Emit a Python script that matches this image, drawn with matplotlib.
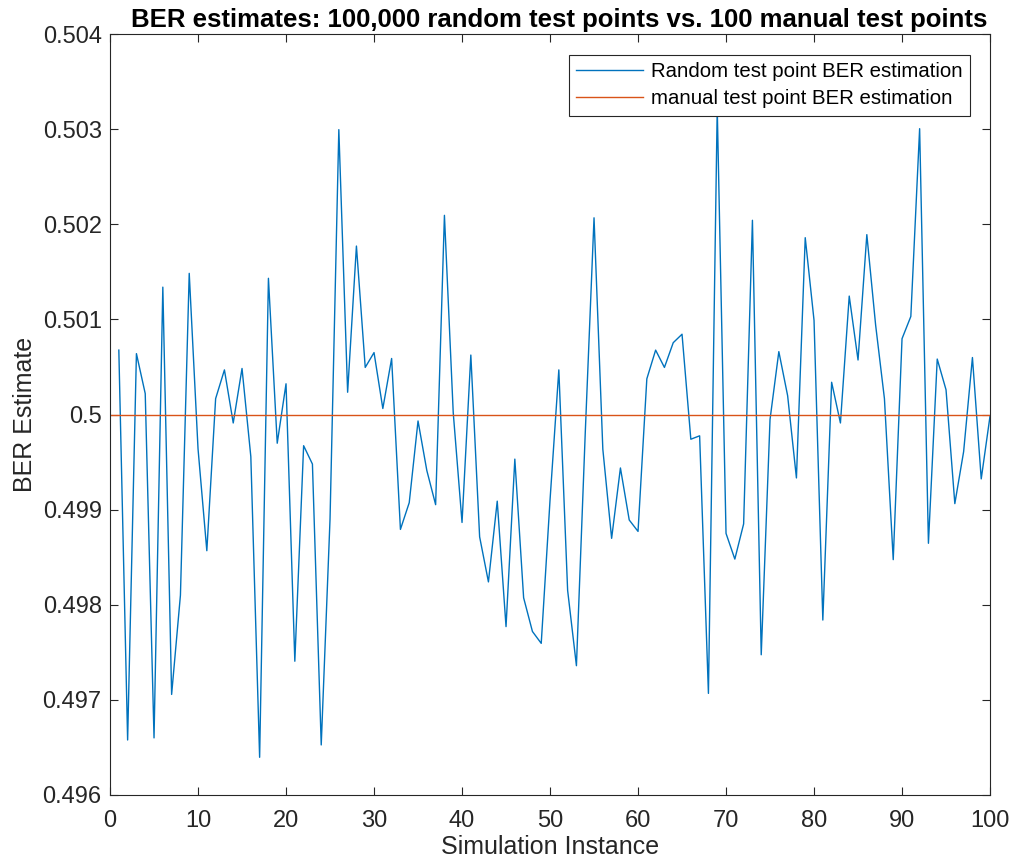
import numpy as np
import matplotlib
matplotlib.use("Agg")
import matplotlib.pyplot as plt

plt.rcParams["font.family"] = ["Liberation Sans", "DejaVu Sans"]

# BER estimate per simulation instance
instances = np.arange(1, 101)
ber_random = [
    0.500677, 0.496578, 0.500640, 0.500220, 0.496600, 0.501339, 0.497057, 0.498100, 0.501484, 0.499640,
    0.498568, 0.500167, 0.500469, 0.499911, 0.500484, 0.499557, 0.496396, 0.501432, 0.499698, 0.500323,
    0.497406, 0.499672, 0.499479, 0.496526, 0.498900, 0.502995, 0.500234, 0.501771, 0.500495, 0.500651,
    0.500063, 0.500589, 0.498792, 0.499073, 0.499932, 0.499411, 0.499052, 0.502094, 0.500020, 0.498865,
    0.500625, 0.498714, 0.498240, 0.499089, 0.497770, 0.499531, 0.498073, 0.497719, 0.497594, 0.499100,
    0.500469, 0.498151, 0.497359, 0.499800, 0.502068, 0.499635, 0.498698, 0.499438, 0.498891, 0.498771,
    0.500375, 0.500677, 0.500495, 0.500755, 0.500844, 0.499740, 0.499776, 0.497068, 0.503220, 0.498750,
    0.498480, 0.498850, 0.502042, 0.497474, 0.499948, 0.500661, 0.500198, 0.499333, 0.501859, 0.500990,
    0.497839, 0.500339, 0.499911, 0.501245, 0.500573, 0.501891, 0.500940, 0.500167, 0.498474, 0.500797,
    0.501031, 0.503005, 0.498646, 0.500583, 0.500260, 0.499063, 0.499610, 0.500599, 0.499323, 0.499984,
]
ber_manual = 0.5

x_ticks = list(range(0, 101, 10))
y_ticks = [0.496, 0.497, 0.498, 0.499, 0.500, 0.501, 0.502, 0.503, 0.504]
y_tick_labels = ["0.496", "0.497", "0.498", "0.499", "0.5", "0.501", "0.502", "0.503", "0.504"]

blue = "#0072BD"
orange = "#D95319"
axis_grey = "#262626"

fig = plt.figure(figsize=(10.15, 8.64), dpi=100)
ax = fig.add_axes([0.1084, 0.0799, 0.8670, 0.8807])

ax.plot(instances, ber_random, color=blue, lw=1.0, label="Random test point BER estimation")
ax.plot([0, 100], [ber_manual, ber_manual], color=orange, lw=1.0,
        label="manual test point BER estimation")

ax.set_xlim(0, 100)
ax.set_ylim(0.496, 0.504)
ax.set_xticks(x_ticks)
ax.set_yticks(y_ticks)
ax.set_yticklabels(y_tick_labels)

ax.tick_params(direction="in", length=6, width=0.8, colors=axis_grey,
               labelsize=17, top=True, right=True, pad=6)
ax.tick_params(axis="x", pad=11)
for s in ax.spines.values():
    s.set_color(axis_grey)
    s.set_linewidth(0.8)

ax.set_xlabel("Simulation Instance", fontsize=18, color=axis_grey, labelpad=2)
ax.set_ylabel("BER Estimate", fontsize=18, color=axis_grey, labelpad=4)
ax.set_title("BER estimates: 100,000 random test points vs. 100 manual test points",
             fontsize=18.5, fontweight="bold", pad=5, x=0.51)

leg = ax.legend(loc="upper right", bbox_to_anchor=(0.9773, 0.9724), borderaxespad=0,
                fontsize=14.7, frameon=True, fancybox=False, edgecolor=axis_grey,
                framealpha=1, handlelength=3.3, borderpad=0.35, labelspacing=0.4,
                handletextpad=0.4)
leg.get_frame().set_linewidth(0.8)

fig.savefig("out.png", dpi=100)
